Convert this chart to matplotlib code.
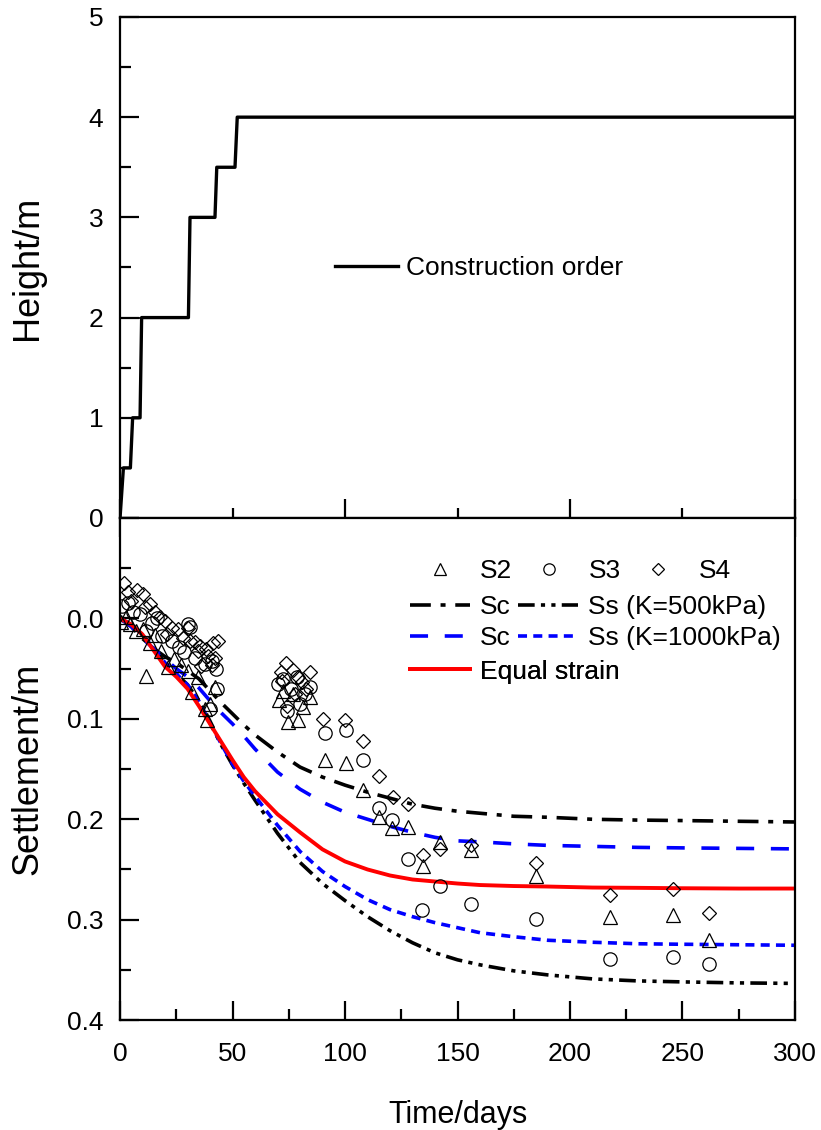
import numpy as np
import matplotlib
matplotlib.use("Agg")
import matplotlib.pyplot as plt
from matplotlib.ticker import MultipleLocator

plt.rcParams["font.family"] = ["Liberation Sans", "DejaVu Sans"]
plt.rcParams["lines.scale_dashes"] = False

# construction history (embankment height vs time)
cons_days = [0, 1.5, 4.6, 5.6, 8.9, 9.6, 30.4, 31.1, 42.2, 43.0, 51.1, 52.1, 300]
cons_h = [0, 0.5, 0.5, 1.0, 1.0, 2.0, 2.0, 3.0, 3.0, 3.5, 3.5, 4.0, 4.0]
guide_h = [0.5, 1.0, 2.0]
guide_end = [4.6, 8.9, 30.4]

# predicted settlement curves
t = [0, 5, 10, 15, 20, 25, 30, 35, 40, 45, 50, 55, 60, 70, 80, 90, 100, 110,
     120, 130, 140, 150, 160, 175, 190, 210, 230, 250, 275, 300]
sc_500 = [0, 0.008, 0.02, 0.03, 0.038, 0.044, 0.052, 0.06, 0.072, 0.084, 0.095,
          0.106, 0.116, 0.133, 0.148, 0.158, 0.166, 0.173, 0.179, 0.185, 0.189,
          0.192, 0.194, 0.197, 0.198, 0.2, 0.2008, 0.2013, 0.202, 0.2027]
ss_500 = [0, 0.006, 0.016, 0.03, 0.044, 0.055, 0.066, 0.082, 0.104, 0.126, 0.146,
          0.164, 0.181, 0.214, 0.243, 0.264, 0.281, 0.297, 0.311, 0.323, 0.333,
          0.34, 0.345, 0.351, 0.355, 0.359, 0.361, 0.362, 0.363, 0.3635]
sc_1000 = [0, 0.008, 0.02, 0.03, 0.04, 0.05, 0.058, 0.069, 0.082, 0.094, 0.105,
           0.117, 0.13, 0.153, 0.17, 0.183, 0.193, 0.2, 0.207, 0.213, 0.218,
           0.2215, 0.2225, 0.2245, 0.226, 0.227, 0.228, 0.2285, 0.229, 0.2295]
ss_1000 = [0, 0.006, 0.016, 0.03, 0.044, 0.055, 0.066, 0.082, 0.104, 0.125, 0.145,
           0.162, 0.177, 0.206, 0.232, 0.252, 0.267, 0.28, 0.29, 0.297, 0.303,
           0.308, 0.313, 0.317, 0.3205, 0.3225, 0.324, 0.3245, 0.325, 0.3255]
equal_strain = [0, 0.006, 0.016, 0.032, 0.048, 0.058, 0.07, 0.087, 0.105, 0.123,
                0.141, 0.158, 0.172, 0.195, 0.213, 0.23, 0.242, 0.25, 0.256,
                0.26, 0.262, 0.264, 0.2655, 0.2665, 0.267, 0.268, 0.2683, 0.2687,
                0.269, 0.269]

# measured settlement plates
s2_days = [0.5, 2.5, 4.5, 7, 10, 11.5, 13.5, 15.5, 18, 21.5, 24, 27, 30.4, 32,
           34.8, 37.8, 38.5, 40, 42,
           70.8, 72.5, 74.8, 77, 79.3, 81.5, 84.4,
           91.1, 100.3, 108.1, 115.2, 121, 127.8, 134.5, 142.2, 156, 185, 218,
           246, 262]
s2_vals = [0.003, -0.001, 0.005, 0.012, 0.01, 0.057, 0.024, 0.016, 0.032, 0.048,
           0.04, 0.046, 0.052, 0.073, 0.058, 0.09, 0.1015, 0.085, 0.068,
           0.081, 0.072, 0.103, 0.075, 0.1015, 0.088, 0.078,
           0.1413, 0.144, 0.171, 0.1977, 0.209, 0.208, 0.2468, 0.2225, 0.2308,
           0.257, 0.297, 0.2955, 0.3204]
s3_days = [1, 3.6, 5.8, 8.9, 11.6, 14.2, 16.5, 18.7, 23.1, 26, 28.4, 30.4, 31.1,
           33.3, 37.8, 40.9, 42.5, 43, 40,
           70.4, 72.5, 74, 76, 78.5, 80, 82, 84.4,
           91.1, 100.3, 108.1, 115.2, 121, 128.1, 134, 142.2, 156, 185, 218, 246,
           262]
s3_vals = [-0.012, -0.015, -0.006, -0.004, 0.012, 0.004, 0.0, 0.017, 0.022, 0.028,
           0.033, 0.005, 0.008, 0.039, 0.045, 0.042, 0.05, 0.07, 0.09,
           0.065, 0.06, 0.0925, 0.07, 0.058, 0.085, 0.075, 0.068,
           0.114, 0.1114, 0.1406, 0.189, 0.2003, 0.24, 0.29, 0.2667, 0.284,
           0.2998, 0.339, 0.3376, 0.3446]
s4_days = [1.8, 3.6, 7.6, 10.2, 4.9, 11.1, 13.3, 15.6, 17.8, 20, 23.1, 20.9, 25.8,
           28, 30.2, 31.1, 33.3, 35.6, 38.2, 41.3, 43.6, 39.1, 42.2, 40.9, 36,
           34.7,
           71.4, 73.8, 77, 80.7, 84.4, 77.8, 74, 72, 79, 82.5,
           90.4, 100, 108, 115.2, 121.5, 128.1, 134.5, 142.2, 156, 185, 218, 246,
           262]
s4_vals = [-0.035, -0.026, -0.028, -0.024, -0.017, -0.011, -0.014, -0.006, -0.001,
           0.002, 0.009, 0.015, 0.01, 0.019, 0.009, 0.022, 0.023, 0.027, 0.03,
           0.024, 0.022, 0.037, 0.039, 0.046, 0.047, 0.032,
           0.0534, 0.0444, 0.0517, 0.0633, 0.0534, 0.075, 0.0876, 0.062, 0.058,
           0.07,
           0.0998, 0.1015, 0.122, 0.157, 0.178, 0.1844, 0.2358, 0.23, 0.2259,
           0.2435, 0.275, 0.269, 0.293]

FS = 19
fig = plt.figure(figsize=(8.21, 11.3), dpi=100)
ax1 = fig.add_axes([0.1462, 0.5416, 0.8221, 0.4434])
ax2 = fig.add_axes([0.1462, 0.0973, 0.8221, 0.4442])

for ax in (ax1, ax2):
    for sp in ax.spines.values():
        sp.set_linewidth(1.6)
    ax.set_xlim(0, 300)

# --- top: construction order ---
ax1.plot(cons_days, cons_h, color="black", lw=2.4, label="Construction order")
ax1.hlines(guide_h, 0, guide_end, color="black", lw=1.3)
ax1.set_ylim(0, 5)
ax1.yaxis.set_major_locator(MultipleLocator(1))
ax1.yaxis.set_minor_locator(MultipleLocator(0.5))
ax1.xaxis.set_major_locator(MultipleLocator(100))
ax1.xaxis.set_minor_locator(MultipleLocator(50))
ax1.tick_params(axis="y", which="major", direction="in", length=14, width=1.6,
                labelsize=FS, pad=12)
ax1.tick_params(axis="y", which="minor", direction="in", length=8, width=1.6)
ax1.tick_params(axis="x", which="major", direction="inout", length=28, width=1.6,
                labelbottom=False)
ax1.tick_params(axis="x", which="minor", direction="inout", length=14, width=1.6)
ax1.set_ylabel("Height/m", fontsize=26)
ax1.yaxis.set_label_coords(-0.111, 0.5)
ax1.legend(loc="center left", bbox_to_anchor=(0.3185, 0.499), frameon=False,
           fontsize=FS, handlelength=2.4, handletextpad=0.3, borderpad=0,
           borderaxespad=0)

# --- bottom: settlement ---
h_sc500, = ax2.plot(t, sc_500, color="black", lw=2.6,
                    linestyle=(0, (15, 7, 3.6, 7)))
h_ss500, = ax2.plot(t, ss_500, color="black", lw=2.6,
                    linestyle=(0, (12, 4.5, 3, 4.5, 3, 4.5)))
h_sc1000, = ax2.plot(t, sc_1000, color="#0000ff", lw=2.6,
                     linestyle=(0, (13, 12)))
h_ss1000, = ax2.plot(t, ss_1000, color="#0000ff", lw=2.6,
                     linestyle=(0, (6.5, 4.5)))
h_eq, = ax2.plot(t, equal_strain, color="#ff0000", lw=2.8)

mk = dict(linestyle="none", markerfacecolor="none", markeredgecolor="black",
          markeredgewidth=0.9)
h_s2, = ax2.plot(s2_days, s2_vals, marker="^", markersize=10.5, **mk)
h_s3, = ax2.plot(s3_days, s3_vals, marker="o", markersize=9.6, **mk)
h_s4, = ax2.plot(s4_days, s4_vals, marker="D", markersize=7.6, **mk)

ax2.set_ylim(0.4, -0.1)
ax2.set_yticks([-0.1, 0.0, 0.1, 0.2, 0.3, 0.4])
ax2.set_yticklabels(["", "0.0", "0.1", "0.2", "0.3", "0.4"])
ax2.yaxis.set_minor_locator(MultipleLocator(0.05))
ax2.xaxis.set_major_locator(MultipleLocator(50))
ax2.xaxis.set_minor_locator(MultipleLocator(25))
ax2.tick_params(which="major", direction="in", length=14, width=1.6,
                labelsize=FS, pad=12)
ax2.tick_params(axis="x", which="major", pad=16)
ax2.tick_params(which="minor", direction="in", length=8, width=1.6)
ax2.set_xlabel("Time/days", fontsize=22, labelpad=24)
ax2.set_ylabel("Settlement/m", fontsize=26)
ax2.yaxis.set_label_coords(-0.111, 0.5)

leg_kw = dict(loc="center left", frameon=False, fontsize=FS, handlelength=2.27,
              handletextpad=0.38, columnspacing=0.27, borderpad=0,
              borderaxespad=0)
lx = (410 - 120) / 675
rows = [
    ([h_s2, h_s3, h_s4], ["S2", "S3", "S4"], 0.894, 0.85),
    ([h_sc500, h_ss500], ["Sc", "Ss (K=500kPa)"], 0.823, 1),
    ([h_sc1000, h_ss1000], ["Sc", "Ss (K=1000kPa)"], 0.761, 1),
    ([h_eq], ["Equal strain"], 0.694, 1),
]
for handles, labels, ly, ms in rows:
    leg = ax2.legend(handles, labels, ncol=len(handles),
                     bbox_to_anchor=(lx, ly), markerscale=ms, **leg_kw)
    ax2.add_artist(leg)

fig.savefig("out.png", dpi=100)
